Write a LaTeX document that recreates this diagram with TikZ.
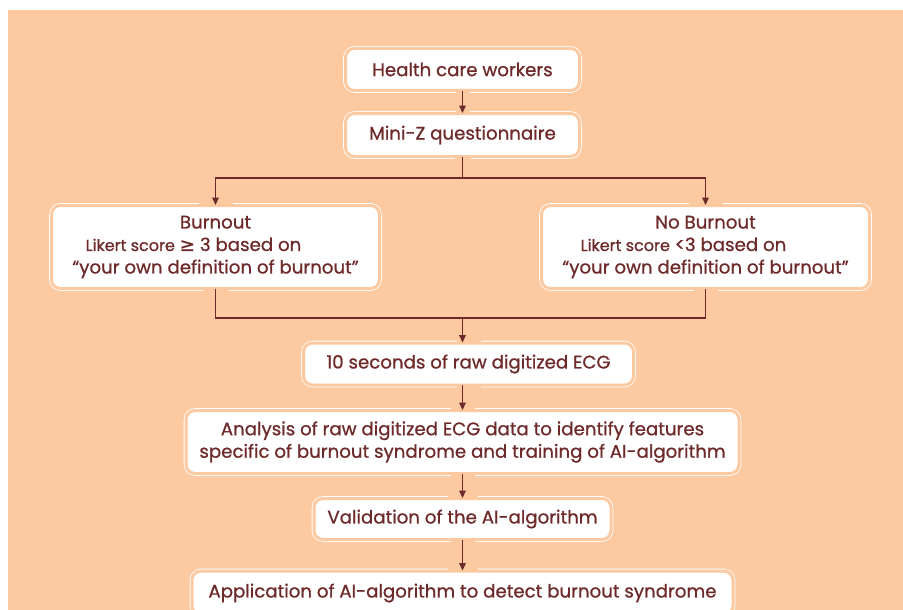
\documentclass[tikz,border=0pt]{standalone}
\usepackage{fontspec}
\setmainfont{Poppins}[FakeBold=0.8]
\newfontfamily\symfont{DejaVu Sans}[FakeBold=0.8]
\usetikzlibrary{arrows.meta,calc}
\definecolor{peach}{HTML}{FDC9A0}
\definecolor{ink}{HTML}{6E2A2A}
\tikzset{
  stepbox/.style={rectangle, rounded corners=9pt, fill=white, draw=white, line width=0.8pt,
    double=peach, double distance=3pt, text=ink, inner sep=0pt, align=center,
    font=\fontsize{18.2}{22.5}\selectfont},
  wire/.style={draw=ink, line width=1.4pt},
  flow/.style={wire, -{Triangle[length=7.5pt,width=6.5pt]}}
}

\begin{document}
\begin{tikzpicture}[x=1pt, y=-1pt]

    \useasboundingbox (0,0) rectangle (903,610);
    \clip (0,0) rectangle (903,610);
    \fill[white] (0,0) rectangle (903,610);
    \fill[peach] (8,10) rectangle (903,610);

    % boxes
    \node[stepbox, minimum width=234, minimum height=42] (hcw) at (462.5,69.5) {Health care workers};
    \node[stepbox, minimum width=234, minimum height=43] (mini) at (462.5,135) {Mini-Z questionnaire};

    \node[stepbox, minimum width=328, minimum height=83] (burn) at (215.5,247)
        {Burnout\\ {\fontsize{16}{22.5}\selectfont Likert score} {\symfont ≥} 3 based on\hspace*{44pt}\mbox{}\\ “your own definition of burnout”};
    \node[stepbox, minimum width=328, minimum height=83] (noburn) at (705.5,247)
        {No Burnout\\ {\fontsize{16}{22.5}\selectfont Likert score} <3 based on\hspace*{44pt}\mbox{}\\ “your own definition of burnout”};

    \node[stepbox, minimum width=330, minimum height=42] (ecg) at (468.5,364) {10 seconds of raw digitized ECG};
    \node[stepbox, minimum width=553, minimum height=63] (ana) at (462.5,442)
        {Analysis of raw digitized ECG data to identify features\\ specific of burnout syndrome and training of AI-algorithm};
    \node[stepbox, minimum width=297, minimum height=41] (val) at (462.5,519) {Validation of the AI-algorithm};
    \node[stepbox, minimum width=541, minimum height=44] (app) at (462.5,593) {Application of AI-algorithm to detect burnout syndrome};

    % openings in the outer rims where the arrows pass
    \foreach \p/\s/\w in {hcw.south/1/7, mini.north/-1/7, mini.south/1/8, burn.north/-1/17, noburn.north/-1/17,
                          burn.south/1/12, noburn.south/1/12, ecg.north/-1/12, ecg.south/1/12, ana.north/-1/12,
                          ana.south/1/12, val.north/-1/15, val.south/1/12, app.north/-1/15}
        \fill[peach] ($(\p)+(-\w,0)$) rectangle ($(\p)+(\w,4*\s)$);

    \coordinate (split) at (462.5,178);
    \coordinate (merge) at (462.5,318);

    % connectors
    \draw[flow] (hcw.south) -- (mini.north);
    \draw[wire] (mini.south) -- (split);
    \draw[flow] (split) -| (burn.north);
    \draw[flow] (split) -| (noburn.north);
    \draw[wire] (burn.south) |- (merge) -| (noburn.south);
    \draw[flow] (merge) -- (merge |- ecg.north);
    \draw[flow] (merge |- ecg.south) -- (ana.north);
    \draw[flow] (ana.south) -- (val.north);
    \draw[flow] (val.south) -- (app.north);

\end{tikzpicture}
\end{document}
